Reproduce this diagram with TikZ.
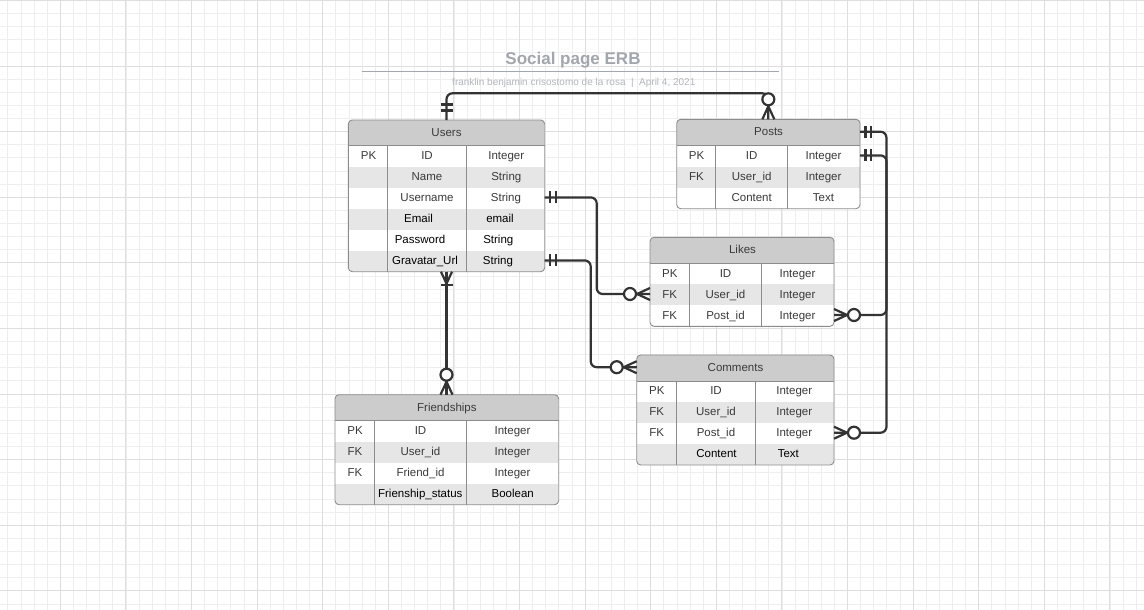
\documentclass[tikz,border=0pt]{standalone}
\usepackage{fontspec}
\setmainfont{Liberation Sans}
\usetikzlibrary{calc}
\definecolor{gridminor}{HTML}{EEEEEE}
\definecolor{gridmajor}{HTML}{DEDEDE}
\definecolor{hdr}{HTML}{CCCCCC}
\definecolor{rowg}{HTML}{E6E6E6}
\definecolor{bord}{HTML}{8C8C8C}
\definecolor{ink}{HTML}{3A3A3A}
\definecolor{titlec}{HTML}{A2A6AD}
\definecolor{subc}{HTML}{B3B6BC}
\definecolor{connc}{HTML}{333333}
\tikzset{
  txt/.style={font=\fontsize{11.5}{13}\selectfont, text=ink, inner sep=0pt,
    text height=8.2pt, text depth=0pt, anchor=center},
  tbl/.style={fill=white, inner sep=0pt, outer sep=0pt, anchor=north west},
  tline/.style={draw=bord, line width=0.9pt},
  rel/.style={draw=connc, line width=2.2pt, rounded corners=6pt},
  relm/.style={draw=connc, line width=2.2pt},
  relc/.style={draw=connc, line width=2.2pt, fill=white},
  zeromany/.pic={
    \draw[relm] (0,-6) -- (13,0) -- (0,6);
    \draw[relm] (0,0) -- (13,0);
    \draw[relc] (20,0) circle (6);
  },
  onlyone/.pic={
    \draw[relm] (5.5,-6) -- (5.5,6);
    \draw[relm] (11,-6) -- (11,6);
  },
  onlyonefar/.pic={
    \draw[relm] (9.5,-6) -- (9.5,6);
    \draw[relm] (15.5,-6) -- (15.5,6);
  },
  onemany/.pic={
    \draw[relm] (0,-5.5) -- (12,0) -- (0,5.5);
    \draw[relm] (0,0) -- (12,0);
    \draw[relm] (13.5,-6) -- (13.5,6);
  },
}
% name, x1, y1, x2, y2, header bottom, col1, col2, gray row tops
\newcommand\erTable[9]{%
  \node[tbl, minimum width=#4pt-#2pt, minimum height=#5pt-#3pt] (#1) at (#2,#3) {};
  \begin{scope}
    \clip[rounded corners=4pt] (#2,#3) rectangle (#4,#5);
    \fill[hdr] (#2,#3) rectangle (#4,#6);
    \foreach \ry in {#9} {\fill[rowg] (#2,\ry) rectangle (#4,{\ry+21});}
  \end{scope}
  \draw[tline] (#2,#6) -- (#4,#6);
  \draw[tline] (#7,#6) -- (#7,#5);
  \draw[tline] (#8,#6) -- (#8,#5);
  \draw[tline, rounded corners=4pt] (#2,#3) rectangle (#4,#5);
}
% prefix, y, x1, t1, x2, t2, x3, t3
\newcommand\erRow[8]{%
  \node[txt] (#1a) at (#3,#2) {#4};
  \node[txt] (#1b) at (#5,#2) {#6};
  \node[txt] (#1c) at (#7,#2) {#8};
}
\newcommand\dk{\color{black}}
\begin{document}
\begin{tikzpicture}[x=1pt,y=-1pt]
\useasboundingbox (0,0) rectangle (1144,610);
\fill[white] (0,0) rectangle (1144,610);
% grid
\foreach \i in {0,...,88} {\draw[gridminor, line width=0.8pt] ({-5.3+13.12*\i},0) -- ({-5.3+13.12*\i},610);}
\foreach \i in {0,...,47} {\draw[gridminor, line width=0.8pt] (0,{0.4+13.12*\i}) -- (1144,{0.4+13.12*\i});}
\foreach \i in {0,...,18} {\draw[gridmajor, line width=0.9pt] ({-5.3+65.6*\i},0) -- ({-5.3+65.6*\i},610);}
\foreach \i in {0,...,9} {\draw[gridmajor, line width=0.9pt] (0,{0.4+65.6*\i}) -- (1144,{0.4+65.6*\i});}

% title
\node[font=\bfseries\fontsize{17}{20}\selectfont, text=titlec, inner sep=0pt,
  text height=12.2pt, text depth=0pt] (title) at (573,58.7) {Social page ERB};
\draw[titlec, line width=1.3pt] (361.7,71.7) -- (778.7,71.7);
\node[font=\fontsize{10}{12}\selectfont, text=subc, inner sep=0pt,
  text height=7.2pt, text depth=0pt] (subtitle) at (573.8,82.3)
  {franklin benjamin crisostomo de la rosa\hspace{5.5pt}|\hspace{5.5pt}April 4, 2021};

% Users
\erTable{users}{348.3}{120}{544.7}{271.7}{145.7}{387.7}{466.7}{166.7,208.7,250.7}
\node[txt] (users-t) at (446.5,131.9) {Users};
\erRow{u1}{155.4}{368.5}{PK}{427}{ID}{506.3}{Integer}
\erRow{u2}{176.4}{368.5}{}{427}{Name}{506.3}{String}
\erRow{u3}{197.4}{368.5}{}{427}{Username}{506}{String}
\erRow{u4}{218.4}{368.5}{}{418.5}{\dk Email}{500}{\dk email}
\erRow{u5}{239.4}{368.5}{}{420}{\dk Password}{498.3}{\dk String}
\erRow{u6}{260.4}{368.5}{}{425}{\dk Gravatar\_Url}{498}{\dk String}

% Posts
\erTable{posts}{676.7}{119.3}{860}{208.7}{145.7}{715.7}{787.7}{166.7}
\node[txt] (posts-t) at (768.6,131.7) {Posts};
\erRow{p1}{155.4}{696.5}{PK}{751.7}{ID}{823.5}{Integer}
\erRow{p2}{176.4}{696.5}{FK}{751.7}{User\_id}{823.5}{Integer}
\erRow{p3}{197.4}{696.5}{}{751.7}{Content}{823.5}{Text}

% Likes
\erTable{likes}{650}{237.3}{834}{326.3}{263.3}{689.3}{761.3}{284.3}
\node[txt] (likes-t) at (742.5,249.5) {Likes};
\erRow{l1}{273}{669.8}{PK}{725.5}{ID}{797.5}{Integer}
\erRow{l2}{294}{669.8}{FK}{725.5}{User\_id}{797.5}{Integer}
\erRow{l3}{315}{669.8}{FK}{725.5}{Post\_id}{797.5}{Integer}

% Comments
\erTable{comments}{636.7}{355}{834}{465}{381}{676}{755}{402,444}
\node[txt] (comments-t) at (735.5,367.2) {Comments};
\erRow{c1}{390.7}{656.8}{PK}{716}{ID}{794.3}{Integer}
\erRow{c2}{411.7}{656.8}{FK}{716}{User\_id}{794.3}{Integer}
\erRow{c3}{432.7}{656.8}{FK}{716}{Post\_id}{794.3}{Integer}
\erRow{c4}{453.7}{656.8}{}{716.5}{\dk Content}{788.3}{\dk Text}

% Friendships
\erTable{friend}{335}{394.7}{558.7}{504.7}{420.7}{374.3}{466.3}{441.7,483.7}
\node[txt] (friend-t) at (446.9,406.9) {Friendships};
\erRow{f1}{430.4}{355}{PK}{420.5}{ID}{512.5}{Integer}
\erRow{f2}{451.4}{355}{FK}{420.5}{User\_id}{512.5}{Integer}
\erRow{f3}{472.4}{355}{FK}{420.5}{Friend\_id}{512.5}{Integer}
\erRow{f4}{493.4}{355}{}{420.3}{\dk Frienship\_status}{512.7}{\dk Boolean}

% bend coordinates
\coordinate (toprun) at (0,93.3);
\coordinate (bendA) at (596.7,0);
\coordinate (bendB) at (590.7,0);
\coordinate (bendC) at (886.5,0);

% connectors
\draw[rel] (users.north) -- (users.north |- toprun) -- (posts.north |- toprun) -- (posts.north);
\draw[rel] (users.east |- u3c) -| (bendA |- l2a) -- (likes.west |- l2a);
\draw[rel] (users.east |- u6c) -| (bendB |- comments-t) -- (comments.west |- comments-t);
\draw[rel] (posts.east |- posts-t) -| (bendC |- l3c) -- (likes.east |- l3c);
\draw[rel] (posts.east |- p1c) -| (bendC |- c3c) -- (comments.east |- c3c);
\draw[rel] (users.south) -- (users.south |- friend.north);

% cardinality marks
\pic[rotate=90] at (users.north) {onlyonefar};
\pic[rotate=90] at (posts.north) {zeromany};
\pic at (users.east |- u3c) {onlyone};
\pic[rotate=180] at (likes.west |- l2a) {zeromany};
\pic at (users.east |- u6c) {onlyone};
\pic[rotate=180] at (comments.west |- comments-t) {zeromany};
\pic at (posts.east |- posts-t) {onlyone};
\pic at (posts.east |- p1c) {onlyone};
\pic at (likes.east |- l3c) {zeromany};
\pic at (comments.east |- c3c) {zeromany};
\pic[rotate=-90] at (users.south) {onemany};
\pic[rotate=90] at (users.south |- friend.north) {zeromany};
\end{tikzpicture}
\end{document}
